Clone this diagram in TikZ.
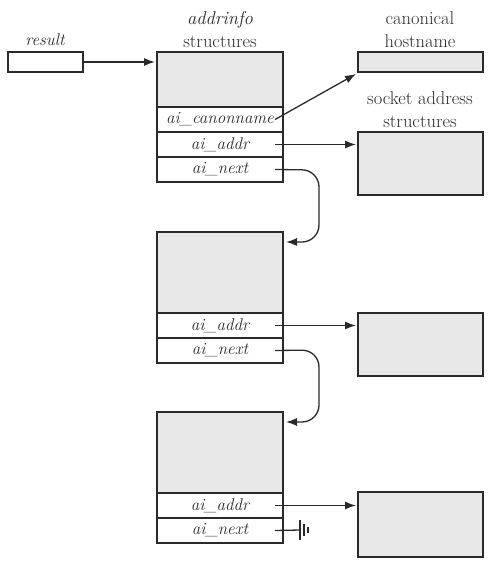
\documentclass[tikz,border=0pt]{standalone}
\usetikzlibrary{arrows.meta}
\definecolor{linec}{HTML}{2A2A2A}
\definecolor{boxgray}{HTML}{E8E8E8}
\newcommand{\fs}{\fontsize{17}{22.5}\selectfont}
\newcommand{\fl}{\fontsize{18.5}{23}\selectfont}
\begin{document}
\begin{tikzpicture}[x=1pt,y=-1pt,
  every node/.style={text=linec},
  cell/.style={draw=linec, line width=1.2pt, minimum width=126pt, minimum height=25pt, inner sep=0pt, outer sep=0pt, anchor=north west, font=\fs\itshape},
  graycell/.style={cell, fill=boxgray},
  lbl/.style={align=center, font=\fl, inner sep=0pt},
  arr/.style={draw=linec, line width=1.3pt, -{Latex[length=11pt,width=8pt]}},
  link/.style={arr, rounded corners=17pt}]
\useasboundingbox (0,0) rectangle (490,565);
% result
\node[cell, minimum width=75pt, minimum height=20pt] (res) at (8,52) {};
\node[lbl, font=\fs\itshape] (reslbl) at (45,40) {result};
% labels
\node[lbl] (addrlbl) at (220,30) {\textit{addrinfo}\\structures};
\node[lbl] (canlbl) at (420,30) {canonical\\hostname};
\node[lbl] (socklbl) at (420,110) {socket address\\structures};
% struct 1
\node[graycell, minimum height=55pt] (g1) at (157,52) {};
\node[cell] (c1) at (157,107) {ai\_canonname};
\node[cell] (a1) at (157,132) {ai\_addr};
\node[cell] (n1) at (157,157) {ai\_next};
% struct 2
\node[graycell, minimum height=81pt] (g2) at (157,232) {};
\node[cell] (a2) at (157,313) {ai\_addr};
\node[cell] (n2) at (157,338) {ai\_next};
% struct 3
\node[graycell, minimum height=81pt] (g3) at (157,412) {};
\node[cell] (a3) at (157,493) {ai\_addr};
\node[cell] (n3) at (157,518) {ai\_next};
% right boxes
\node[graycell, minimum width=125pt, minimum height=20pt] (host) at (358,52) {};
\node[graycell, minimum width=125pt, minimum height=63pt] (s1) at (358,132) {};
\node[graycell, minimum width=125pt, minimum height=63pt] (s2) at (358,313) {};
\node[graycell, minimum width=125pt, minimum height=65pt] (s3) at (358,492) {};
% arrows
\draw[arr] (res.east) -- ([xshift=-2pt]g1.west |- res.east);
\draw[arr] ([xshift=-8pt]c1.east) -- ([xshift=-2pt, yshift=-2pt]host.south west);
\draw[arr] ([xshift=-8pt]a1.east) -- ([xshift=-2pt]s1.west |- a1.east);
\draw[arr] ([xshift=-8pt]a2.east) -- ([xshift=-2pt]s2.west |- a2.east);
\draw[arr] ([xshift=-8pt]a3.east) -- ([xshift=-2pt]s3.west |- a3.east);
\coordinate (t1) at (319,170);
\coordinate (b1) at (319,242);
\coordinate (t2) at (319,350);
\coordinate (b2) at (319,422);
\draw[link] ([xshift=-8pt]n1.east) -- (t1) -- (b1) -- ([xshift=3pt]g2.east |- b1);
\draw[link] ([xshift=-8pt]n2.east) -- (t2) -- (b2) -- ([xshift=3pt]g3.east |- b2);
% ground
\coordinate (gnd) at (300,530);
\draw[draw=linec, line width=1.3pt] ([xshift=-8pt]n3.east) -- (gnd);
\draw[draw=linec, line width=1.4pt] (300,520) -- (300,540);
\draw[draw=linec, line width=1.4pt] (304,524) -- (304,536);
\draw[draw=linec, line width=1.4pt] (308,527) -- (308,533);
\end{tikzpicture}
\end{document}
